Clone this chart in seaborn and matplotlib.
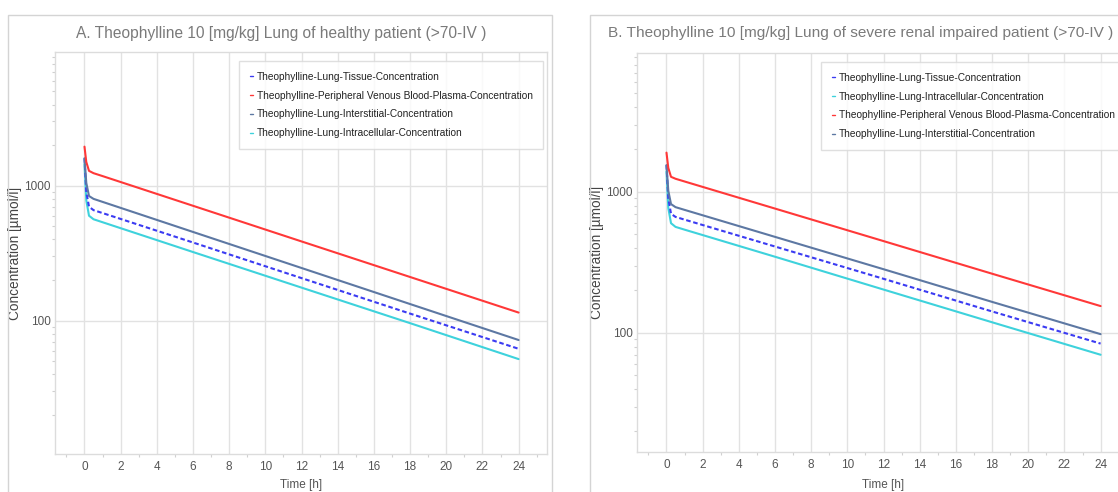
import numpy as np
import pandas as pd
import seaborn as sns
import matplotlib
matplotlib.use("Agg")
import matplotlib.pyplot as plt
from matplotlib import font_manager
from matplotlib.lines import Line2D
from matplotlib.patches import Rectangle
from matplotlib.ticker import FixedLocator, NullFormatter, LogLocator, FuncFormatter

sns.set_theme(style="white")
names = {f.name for f in font_manager.fontManager.ttflist}
NARROW = "Liberation Sans Narrow" if "Liberation Sans Narrow" in names else "Liberation Sans"
plt.rcParams["font.family"] = [NARROW, "DejaVu Sans"]

# ---------------- data ----------------
time_h = [0, 0.1, 0.25, 0.5, 1, 6, 12, 18, 24]

# Panel A: healthy patient
a_plasma = [1950, 1500, 1290, 1240, 1180, 711, 387, 211, 115]
a_interstitial = [1600, 1050, 840, 800, 760, 455, 246, 133, 72]
a_tissue = [1600, 900, 700, 660, 628, 380, 207, 113, 62]
a_intracellular = [1450, 780, 600, 565, 537, 323, 176, 96, 52]

# Panel B: severe renal impaired patient
b_plasma = [1900, 1480, 1280, 1240, 1186, 762, 448, 263, 155]
b_interstitial = [1550, 1020, 820, 780, 746, 480, 283, 166, 98]
b_tissue = [1550, 900, 700, 665, 636, 410, 242, 142, 84]
b_intracellular = [1400, 770, 600, 565, 540, 347, 203, 119, 70]

TISSUE = "Theophylline-Lung-Tissue-Concentration"
PLASMA = "Theophylline-Peripheral Venous Blood-Plasma-Concentration"
INTER = "Theophylline-Lung-Interstitial-Concentration"
INTRA = "Theophylline-Lung-Intracellular-Concentration"

legend_a = [TISSUE, PLASMA, INTER, INTRA]
legend_b = [TISSUE, INTRA, PLASMA, INTER]

title_a = "A. Theophylline 10 [mg/kg] Lung of healthy patient (>70-IV )"
title_b = "B. Theophylline 10 [mg/kg] Lung of severe renal impaired patient (>70-IV )"
x_ticks = list(range(0, 25, 2))
y_ticks = [100, 1000]

colors = {TISSUE: "#3b3bf2", PLASMA: "#ff3838", INTER: "#5d78a3", INTRA: "#3ed2dc"}
dashes = {TISSUE: (2.2, 1.3), PLASMA: "", INTER: "", INTRA: ""}
draw_order = [INTRA, TISSUE, INTER, PLASMA]


def make_df(plasma, inter, tissue, intra):
    rows = []
    for name, vals in [(PLASMA, plasma), (INTER, inter), (TISSUE, tissue), (INTRA, intra)]:
        for t, v in zip(time_h, vals):
            rows.append({"Time": t, "Conc": v, "Series": name})
    return pd.DataFrame(rows)


df_a = make_df(a_plasma, a_interstitial, a_tissue, a_intracellular)
df_b = make_df(b_plasma, b_interstitial, b_tissue, b_intracellular)

W, H = 1118, 492
fig = plt.figure(figsize=(W / 100, H / 100), dpi=100)
fig.patch.set_facecolor("white")

# outer panel frames
fig.add_artist(Rectangle((8 / W, -0.1), (552 - 8) / W, 1.1 - 15 / H, transform=fig.transFigure,
                         fill=False, edgecolor="#d4d4d4", lw=1.0))
fig.add_artist(Rectangle((590 / W, -0.1), 0.6, 1.1 - 15 / H, transform=fig.transFigure,
                         fill=False, edgecolor="#d4d4d4", lw=1.0))


def panel(left_px, top_px, bottom_px, df, ylim, order, title, title_x_px, title_size):
    h_px = bottom_px - top_px
    ax = fig.add_axes([left_px / W, 1 - bottom_px / H, 492 / W, h_px / H])
    for name in draw_order:
        sub = df[df["Series"] == name]
        sns.lineplot(data=sub, x="Time", y="Conc", ax=ax, color=colors[name],
                     lw=1.5, legend=False, estimator=None, sort=False)
        if dashes[name]:
            ax.lines[-1].set_dashes(dashes[name])
    ax.set_yscale("log")
    ax.set_xlim(-1.63, 25.57)
    ax.set_ylim(*ylim)
    ax.set_xticks(x_ticks)
    ax.set_xticklabels([str(t) for t in x_ticks])
    ax.xaxis.set_minor_locator(FixedLocator([-1] + [t + 1 for t in x_ticks]))
    ax.yaxis.set_major_locator(FixedLocator(y_ticks))
    ax.yaxis.set_major_formatter(FuncFormatter(lambda v, p: f"{int(round(v))}"))
    ax.yaxis.set_minor_locator(LogLocator(base=10, subs=np.arange(2, 10), numticks=20))
    ax.yaxis.set_minor_formatter(NullFormatter())
    ax.grid(True, which="major", color="#e2e2e2", lw=1.0)
    ax.tick_params(axis="both", which="major", labelsize=8.5, colors="#d0d0d0",
                   labelcolor="#555555", length=0, width=0.8, pad=5)
    ax.tick_params(axis="y", which="major", pad=3)
    ax.tick_params(axis="both", which="minor", colors="#d0d0d0", length=2.5, width=0.8)
    ax.tick_params(axis="x", which="minor", bottom=True)
    ax.tick_params(axis="y", which="minor", left=True)
    for s in ax.spines.values():
        s.set_color("#dcdcdc")
        s.set_linewidth(1.0)
    ax.set_xlabel("Time [h]", fontsize=8.5, color="#555555")
    ax.xaxis.set_label_coords(0.5, -(479 - bottom_px) / h_px)
    ax.set_ylabel("Concentration [µmol/l]", fontsize=9.8, color="#444444")
    ax.yaxis.set_label_coords(-32.5 / 492, 0.5)
    handles = [Line2D([0], [0], color=colors[n], lw=1.0) for n in order]
    leg = ax.legend(handles, order, loc="upper left", bbox_to_anchor=(184 / 492, 1 - 9 / h_px),
                    frameon=True, fancybox=False, fontsize=7.3, handlelength=0.3,
                    handletextpad=0.4, labelspacing=0.88, borderpad=1.05, borderaxespad=0)
    leg.get_frame().set_edgecolor("#d8d8d8")
    leg.get_frame().set_linewidth(1.0)
    for t in leg.get_texts():
        t.set_color("#222222")
    fig.text(title_x_px / W, 1 - 33 / H, title, fontsize=title_size, color="#7a7a7a",
             ha="left", va="center")
    return ax


panel(55, 52, 454, df_a, (10.3, 9800), legend_a, title_a, 76, 11.2)
panel(637, 53, 452, df_b, (14.3, 9670), legend_b, title_b, 608, 11.1)

fig.savefig("out.png", dpi=100, facecolor="white")
